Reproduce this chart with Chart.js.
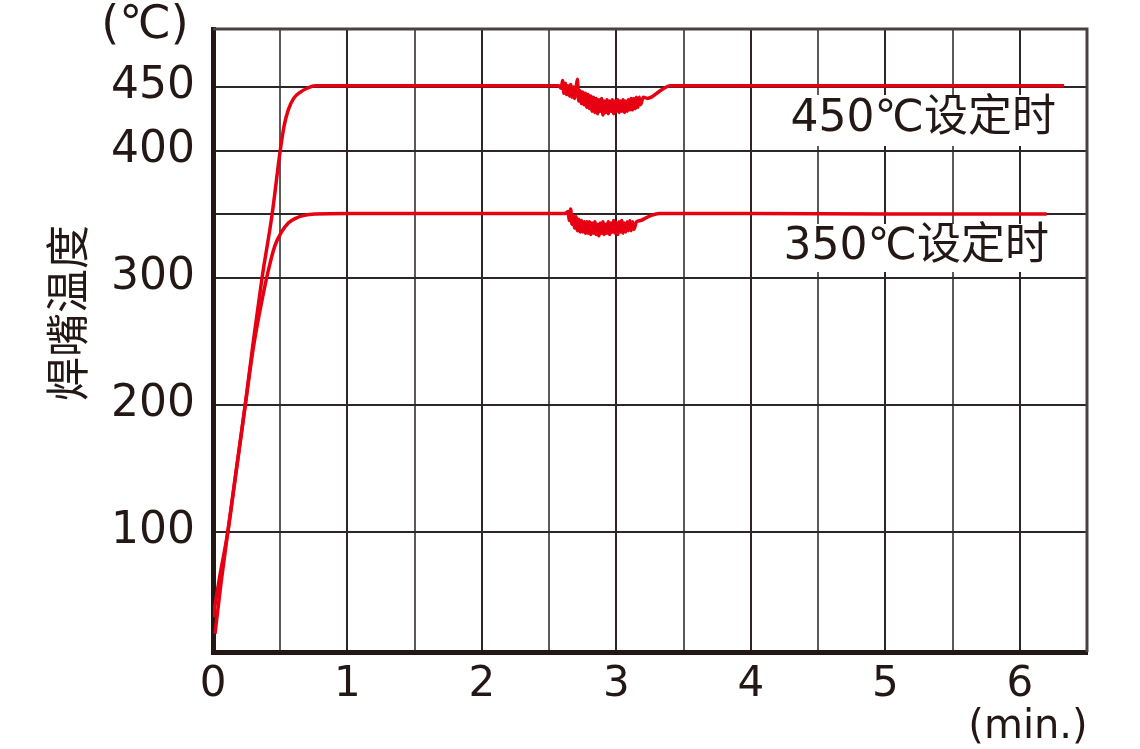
<!DOCTYPE html>
<html>
<head>
<meta charset="utf-8">
<script src="https://cdn.jsdelivr.net/npm/chart.js@4/dist/chart.umd.min.js"></script>
<style>
  body { margin: 0; background: #fff; }
  #wrap { width: 1140px; height: 749px; }
</style>
</head>
<body>
<div id="wrap"><canvas id="myChart" width="1140" height="749"></canvas></div>
<script>
// temperature curves (min, °C)
var time450 = [0.015, 0.06, 0.11, 0.175, 0.24, 0.30, 0.365, 0.44, 0.50, 0.53, 0.56, 0.60, 0.65, 0.70, 0.76, 1.0, 1.5, 2.0, 2.5, 2.57,
  2.59, 2.60, 2.61, 2.62, 2.63, 2.64, 2.65, 2.66, 2.67, 2.68, 2.69, 2.70, 2.71, 2.72, 2.73, 2.74, 2.75, 2.76, 2.77, 2.78, 2.79,
  2.80, 2.81, 2.82, 2.83, 2.84, 2.85, 2.86, 2.87, 2.88, 2.89, 2.90, 2.91, 2.92, 2.93, 2.94, 2.95, 2.96, 2.97, 2.98, 2.99,
  3.00, 3.01, 3.02, 3.03, 3.04, 3.05, 3.06, 3.07, 3.08, 3.09, 3.10, 3.11, 3.12, 3.13, 3.14, 3.15, 3.16, 3.17, 3.18, 3.20,
  3.23, 3.26, 3.30, 3.34, 3.40, 3.5, 4.0, 5.0, 6.33];
var temp450 = [20, 60, 100, 150, 200, 250, 300, 350, 400, 420, 432, 441, 446, 449, 451, 451, 451, 451, 451, 451,
  449, 455, 445, 453, 444, 451, 443, 452, 442, 450, 441, 449, 456, 439, 447, 437, 446, 436, 445, 434,
  444, 433, 443, 431, 442, 430, 441, 429, 440, 431, 441, 428, 439, 430, 440, 429, 439, 431, 440, 429, 439,
  431, 440, 430, 439, 431, 440, 430, 439, 431, 440, 432, 441, 432, 441, 433, 442, 434, 442, 436, 442,
  441, 442, 445, 448, 451, 451, 451, 451, 451];

var time350 = [0, 0.05, 0.11, 0.175, 0.24, 0.30, 0.36, 0.41, 0.46, 0.51, 0.56, 0.61, 0.68, 0.76, 1.0, 2.0, 2.62,
  2.64, 2.65, 2.66, 2.67, 2.68, 2.69, 2.70, 2.71, 2.72, 2.73, 2.74, 2.75, 2.76, 2.77, 2.78, 2.79,
  2.80, 2.81, 2.82, 2.83, 2.84, 2.85, 2.86, 2.87, 2.88, 2.89, 2.90, 2.91, 2.92, 2.93, 2.94, 2.95, 2.96, 2.97, 2.98, 2.99,
  3.00, 3.01, 3.02, 3.03, 3.04, 3.05, 3.06, 3.07, 3.08, 3.09, 3.10, 3.11, 3.12, 3.13, 3.15, 3.18, 3.22, 3.26, 3.32,
  3.5, 4.0, 5.0, 6.2];
var temp350 = [33, 65, 100, 150, 200, 245, 280, 305, 325, 336, 343, 346.5, 349, 350, 350.5, 350.5, 350.5,
  352, 345, 354, 342, 349, 339, 348, 337, 346, 336, 345, 336, 344, 335, 344, 335,
  344, 334, 343, 335, 344, 334, 342, 333, 343, 335, 344, 334, 342, 335, 344, 334, 343, 336, 345, 335,
  343, 334, 344, 336, 345, 335, 343, 336, 344, 337, 345, 337, 344, 338, 344, 345, 347, 349, 350.5,
  350.5, 350.5, 350, 350];

var yTicks = [100, 200, 300, 350, 400, 450];
var seriesLabels = ['450℃设定时', '350℃设定时'];

function toPoints(xs, ys) {
  var pts = [];
  for (var i = 0; i < xs.length; i++) pts.push({x: xs[i], y: ys[i]});
  return pts;
}

var ink = '#231815';
var red = '#e60012';

// frame on top/right, axis titles, white-backed labels
var extras = {
  id: 'extras',
  beforeDatasetsDraw: function(chart) {
    var c = chart.ctx, a = chart.chartArea;
    c.save();
    c.strokeStyle = '#4a4242';
    c.lineWidth = 3;
    c.beginPath();
    c.moveTo(a.left, a.top);
    c.lineTo(a.right, a.top);
    c.lineTo(a.right, a.bottom);
    c.stroke();
    // white boxes behind the series labels
    c.fillStyle = '#fff';
    c.fillRect(790, 95, 272, 51);
    c.fillRect(783, 224, 272, 48);
    c.restore();
  },
  afterDraw: function(chart) {
    var c = chart.ctx;
    c.save();
    c.fillStyle = ink;
    c.textBaseline = 'middle';
    c.font = '44px "DejaVu Sans", "Noto Sans CJK SC"';
    c.textAlign = 'right';
    c.fillText(seriesLabels[0], 1056, 120);
    c.fillText(seriesLabels[1], 1049, 248);
    c.textAlign = 'center';
    c.font = '46px "DejaVu Sans"';
    c.fillText('(℃)', 145, 26);
    c.font = '40px "DejaVu Sans"';
    c.fillText('(min.)', 1028, 728);
    c.translate(67, 313);
    c.rotate(-Math.PI / 2);
    c.font = '44px "Noto Sans CJK SC"';
    c.fillText('焊嘴温度', 0, 0);
    c.restore();
  }
};

var ctx = document.getElementById('myChart').getContext('2d');
var myChart = new Chart(ctx, {
  type: 'line',
  data: {
    datasets: [{
      data: toPoints(time450, temp450),
      borderColor: red,
      borderWidth: 3.5,
      pointRadius: 0,
      cubicInterpolationMode: 'monotone'
    }, {
      data: toPoints(time350, temp350),
      borderColor: red,
      borderWidth: 3.5,
      pointRadius: 0,
      cubicInterpolationMode: 'monotone'
    }]
  },
  options: {
    responsive: false,
    animation: false,
    layout: { padding: { top: 29, right: 53, left: 0, bottom: 0 } },
    plugins: { legend: { display: false }, tooltip: { enabled: false } },
    scales: {
      x: {
        type: 'linear',
        min: 0,
        max: 6.5,
        afterFit: function(s) { s.height = 97; s.paddingLeft = 0; s.paddingRight = 0; },
        border: { width: 5, color: ink },
        grid: {
          drawTicks: false,
          lineWidth: 2,
          color: function(c) { return c.tick && c.tick.value % 1 !== 0 ? '#5e5858' : '#2e2626'; }
        },
        ticks: {
          stepSize: 0.5,
          padding: 8,
          color: ink,
          font: { family: 'DejaVu Sans', size: 42 },
          maxRotation: 0,
          autoSkip: false,
          callback: function(v) { return v % 1 === 0 ? v : ''; }
        }
      },
      y: {
        min: 5.6,
        max: 495.6,
        afterFit: function(s) { s.width = 213; s.paddingTop = 0; s.paddingBottom = 0; },
        afterBuildTicks: function(s) { s.ticks = yTicks.map(function(v) { return {value: v}; }); },
        border: { width: 5, color: ink },
        grid: { drawTicks: false, lineWidth: 2, color: '#2e2626' },
        ticks: {
          padding: 18,
          color: ink,
          font: { family: 'DejaVu Sans', size: 44 },
          callback: function(v) { return v === 350 ? '' : v; }
        }
      }
    }
  },
  plugins: [extras]
});
</script>
</body>
</html>
